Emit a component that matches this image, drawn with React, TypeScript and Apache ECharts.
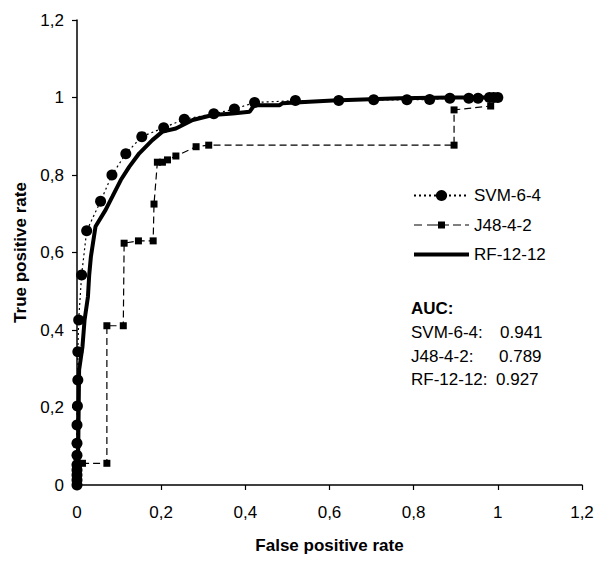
import React, { useEffect, useRef } from "react";
import * as echarts from "echarts";

const seriesNames = ["SVM-6-4", "J48-4-2", "RF-12-12"];

const svmFpr = [0, 0, 0, 0, 0, 0, 0, 0, 0.001, 0.002, 0.002, 0.004, 0.011, 0.023, 0.056, 0.083, 0.116, 0.154, 0.206, 0.255, 0.325, 0.374, 0.422, 0.519, 0.622, 0.705, 0.784, 0.838, 0.886, 0.931, 0.953, 0.98, 0.99, 1];
const svmTpr = [0, 0.013, 0.026, 0.039, 0.052, 0.077, 0.108, 0.155, 0.204, 0.271, 0.344, 0.426, 0.542, 0.656, 0.732, 0.8, 0.855, 0.899, 0.922, 0.944, 0.958, 0.97, 0.987, 0.992, 0.992, 0.994, 0.994, 0.995, 0.998, 0.998, 0.998, 1, 1, 1];

const j48Fpr = [0, 0.013, 0.071, 0.071, 0.11, 0.112, 0.146, 0.181, 0.183, 0.191, 0.203, 0.215, 0.235, 0.283, 0.313, 0.896, 0.896, 0.983, 1];
const j48Tpr = [0, 0.056, 0.056, 0.411, 0.411, 0.624, 0.63, 0.63, 0.725, 0.833, 0.833, 0.839, 0.849, 0.873, 0.877, 0.877, 0.968, 0.978, 1];

const rfFpr = [0, 0.003, 0.004, 0.005, 0.013, 0.018, 0.026, 0.029, 0.033, 0.044, 0.068, 0.084, 0.104, 0.124, 0.148, 0.179, 0.203, 0.235, 0.275, 0.322, 0.37, 0.41, 0.421, 0.481, 0.488, 0.552, 0.608, 0.767, 0.886, 1];
const rfTpr = [0, 0.1, 0.2, 0.297, 0.357, 0.426, 0.486, 0.542, 0.589, 0.667, 0.71, 0.744, 0.787, 0.821, 0.856, 0.89, 0.912, 0.92, 0.942, 0.955, 0.959, 0.963, 0.98, 0.98, 0.985, 0.989, 0.992, 0.998, 1, 1];

const aucLabels = ["SVM-6-4:", "J48-4-2:", "RF-12-12:"];
const aucValues = ["0.941", "0.789", "0.927"];

const FONT = "'Liberation Sans', Arial, sans-serif";

const zip = (xs: number[], ys: number[]) => xs.map((x, i) => [x, ys[i]]);
const fmt = (v: number) => String(Math.round(v * 10) / 10).replace(".", ",");

// legend icon shapes (55 x 14 box)
const j48Icon =
  "path://M0,6.4H8V7.6H0Z M13,6.4H21V7.6H13Z M21,6.4H24V7.6H21Z M24,3.5H31V10.5H24Z M31,6.4H35V7.6H31Z M39,6.4H47V7.6H39Z M51,6.4H55V7.6H51Z";
const rfIcon = "path://M0,0H55V4H0Z";

export default function App() {
  const ref = useRef<HTMLDivElement>(null);
  useEffect(() => {
    document.body.style.margin = "0";
    const chart = echarts.init(ref.current!, null, { renderer: "svg" });
    const axisCommon = {
      type: "value" as const,
      min: 0,
      max: 1.2,
      interval: 0.2,
      splitLine: { show: false },
      axisLine: { show: true, lineStyle: { color: "#000", width: 1.5 } },
      axisTick: { show: true, inside: false, length: 5, lineStyle: { color: "#000", width: 1.2 } },
      nameLocation: "middle" as const,
      nameTextStyle: { fontFamily: FONT, fontSize: 17, fontWeight: "bold" as const, color: "#000" },
    };
    const aucGraphics: any[] = [
      { type: "text", left: 411, top: 300, style: { text: "AUC:", font: `bold 17px ${FONT}`, fill: "#000" } },
    ];
    const valueX = [500, 499, 496];
    aucLabels.forEach((l, i) => {
      aucGraphics.push({ type: "text", left: 411, top: 324 + i * 23.7, style: { text: l, font: `17px ${FONT}`, fill: "#000" } });
      aucGraphics.push({ type: "text", left: valueX[i], top: 324 + i * 23.7, style: { text: aucValues[i], font: `17px ${FONT}`, fill: "#000" } });
    });
    chart.setOption({
      animation: false,
      backgroundColor: "#fff",
      grid: { left: 77, right: 18, top: 20, bottom: 79, containLabel: false },
      xAxis: {
        ...axisCommon,
        name: "False positive rate",
        nameGap: 52,
        axisLabel: { formatter: fmt, fontFamily: FONT, fontSize: 17, color: "#000", margin: 19 },
      },
      yAxis: {
        ...axisCommon,
        name: "True positive rate",
        nameGap: 48,
        axisLabel: { formatter: fmt, fontFamily: FONT, fontSize: 17, color: "#000", margin: 13 },
      },
      legend: {
        show: true,
        orient: "vertical",
        left: 408,
        top: 182,
        itemWidth: 55,
        itemHeight: 14,
        itemGap: 12.5,
        data: [
          { name: seriesNames[0] },
          { name: seriesNames[1], icon: j48Icon, itemStyle: { color: "#000" } },
          { name: seriesNames[2], icon: rfIcon, itemStyle: { color: "#000" } },
        ],
        textStyle: { fontFamily: FONT, fontSize: 17, color: "#000" },
      },
      graphic: aucGraphics,
      series: [
        {
          name: seriesNames[0],
          type: "line",
          data: zip(svmFpr, svmTpr),
          symbol: "circle",
          symbolSize: 11,
          showAllSymbol: true,
          itemStyle: { color: "#000" },
          lineStyle: { color: "#000", width: 1.2, type: [2, 3] },
          z: 3,
        },
        {
          name: seriesNames[1],
          type: "line",
          data: zip(j48Fpr, j48Tpr),
          symbol: "rect",
          symbolSize: 7,
          showAllSymbol: true,
          itemStyle: { color: "#000" },
          lineStyle: { color: "#000", width: 1.2, type: [7, 4] },
          z: 2,
        },
        {
          name: seriesNames[2],
          type: "line",
          data: zip(rfFpr, rfTpr),
          symbol: "none",
          showSymbol: false,
          itemStyle: { color: "#000" },
          lineStyle: { color: "#000", width: 4 },
          z: 4,
        },
      ],
    });
    return () => chart.dispose();
  }, []);
  return <div ref={ref} style={{ width: 600, height: 564 }} />;
}
